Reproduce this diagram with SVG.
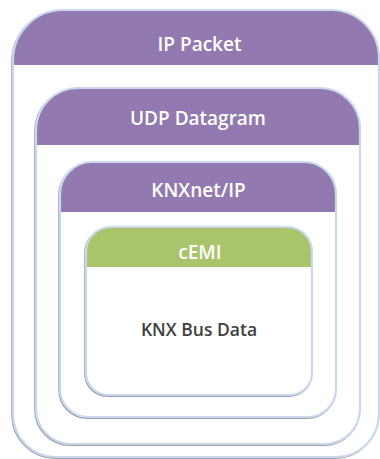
<svg xmlns="http://www.w3.org/2000/svg" width="380" height="459" viewBox="0 0 380 459">
  <style>
    .frame { fill: #ffffff; }
    .shadow { fill: none; stroke: #9aa3ad; stroke-width: 2; }
    .edge { fill: none; stroke: #c9d8ec; stroke-width: 2.2; }
    .hdr-p { fill: #9279af; }
    .hdr-g { fill: #a9c46b; }
    .hlabel { font-family: "Open Sans", "Liberation Sans", sans-serif; font-weight: 600; font-size: 19px; fill: #ffffff; text-anchor: middle; }
    .blabel { font-family: "Open Sans", "Liberation Sans", sans-serif; font-weight: 600; font-size: 17.5px; fill: #404040; text-anchor: middle; }
  </style>
  <rect width="380" height="459" fill="#ffffff"/>

  <g id="ip-packet">
    <path class="shadow" transform="translate(-0.8,1)" d="M13,60 A50,50 0 0 1 63,10 L331,10 A48,48 0 0 1 379,58 L379,414 A43,43 0 0 1 336,457 L56,457 A43,43 0 0 1 13,414 Z"/>
    <path class="frame" d="M13,60 A50,50 0 0 1 63,10 L331,10 A48,48 0 0 1 379,58 L379,414 A43,43 0 0 1 336,457 L56,457 A43,43 0 0 1 13,414 Z"/>
    <path class="hdr-p" d="M13,65 L13,60 A50,50 0 0 1 63,10 L331,10 A48,48 0 0 1 379,58 L379,65 Z"/>
    <path class="edge" d="M13,60 A50,50 0 0 1 63,10 L331,10 A48,48 0 0 1 379,58 L379,414 A43,43 0 0 1 336,457 L56,457 A43,43 0 0 1 13,414 Z"/>
    <text class="hlabel" x="199.5" y="51">IP Packet</text>
  </g>

  <g id="udp-datagram">
    <path class="shadow" transform="translate(-0.8,1)" d="M36,130 A42,42 0 0 1 78,88 L320,88 A40,40 0 0 1 360,128 L360,409 A35,35 0 0 1 325,444 L71,444 A35,35 0 0 1 36,409 Z"/>
    <path class="frame" d="M36,130 A42,42 0 0 1 78,88 L320,88 A40,40 0 0 1 360,128 L360,409 A35,35 0 0 1 325,444 L71,444 A35,35 0 0 1 36,409 Z"/>
    <path class="hdr-p" d="M36,145 L36,130 A42,42 0 0 1 78,88 L320,88 A40,40 0 0 1 360,128 L360,145 Z"/>
    <path class="edge" d="M36,130 A42,42 0 0 1 78,88 L320,88 A40,40 0 0 1 360,128 L360,409 A35,35 0 0 1 325,444 L71,444 A35,35 0 0 1 36,409 Z"/>
    <text class="hlabel" x="198" y="125">UDP Datagram</text>
  </g>

  <g id="knxnet-ip">
    <path class="shadow" transform="translate(-0.8,1)" d="M60,194 A32,32 0 0 1 92,162 L304,162 A32,32 0 0 1 336,194 L336,389 A28,28 0 0 1 308,417 L88,417 A28,28 0 0 1 60,389 Z"/>
    <path class="frame" d="M60,194 A32,32 0 0 1 92,162 L304,162 A32,32 0 0 1 336,194 L336,389 A28,28 0 0 1 308,417 L88,417 A28,28 0 0 1 60,389 Z"/>
    <path class="hdr-p" d="M60,212 L60,194 A32,32 0 0 1 92,162 L304,162 A32,32 0 0 1 336,194 L336,212 Z"/>
    <path class="edge" d="M60,194 A32,32 0 0 1 92,162 L304,162 A32,32 0 0 1 336,194 L336,389 A28,28 0 0 1 308,417 L88,417 A28,28 0 0 1 60,389 Z"/>
    <text class="hlabel" x="198.5" y="197">KNXnet/IP</text>
  </g>

  <g id="cemi">
    <path class="shadow" transform="translate(-0.8,1)" d="M86,252 A25,25 0 0 1 111,227 L287,227 A25,25 0 0 1 312,252 L312,373 A22,22 0 0 1 290,395 L108,395 A22,22 0 0 1 86,373 Z"/>
    <path class="frame" d="M86,252 A25,25 0 0 1 111,227 L287,227 A25,25 0 0 1 312,252 L312,373 A22,22 0 0 1 290,395 L108,395 A22,22 0 0 1 86,373 Z"/>
    <path class="hdr-g" d="M86,267 L86,252 A25,25 0 0 1 111,227 L287,227 A25,25 0 0 1 312,252 L312,267 Z"/>
    <path class="edge" d="M86,252 A25,25 0 0 1 111,227 L287,227 A25,25 0 0 1 312,252 L312,373 A22,22 0 0 1 290,395 L108,395 A22,22 0 0 1 86,373 Z"/>
    <text class="hlabel" x="200" y="259">cEMI</text>
    <text class="blabel" x="199" y="336">KNX Bus Data</text>
  </g>

  <g id="connectors"/>
</svg>
